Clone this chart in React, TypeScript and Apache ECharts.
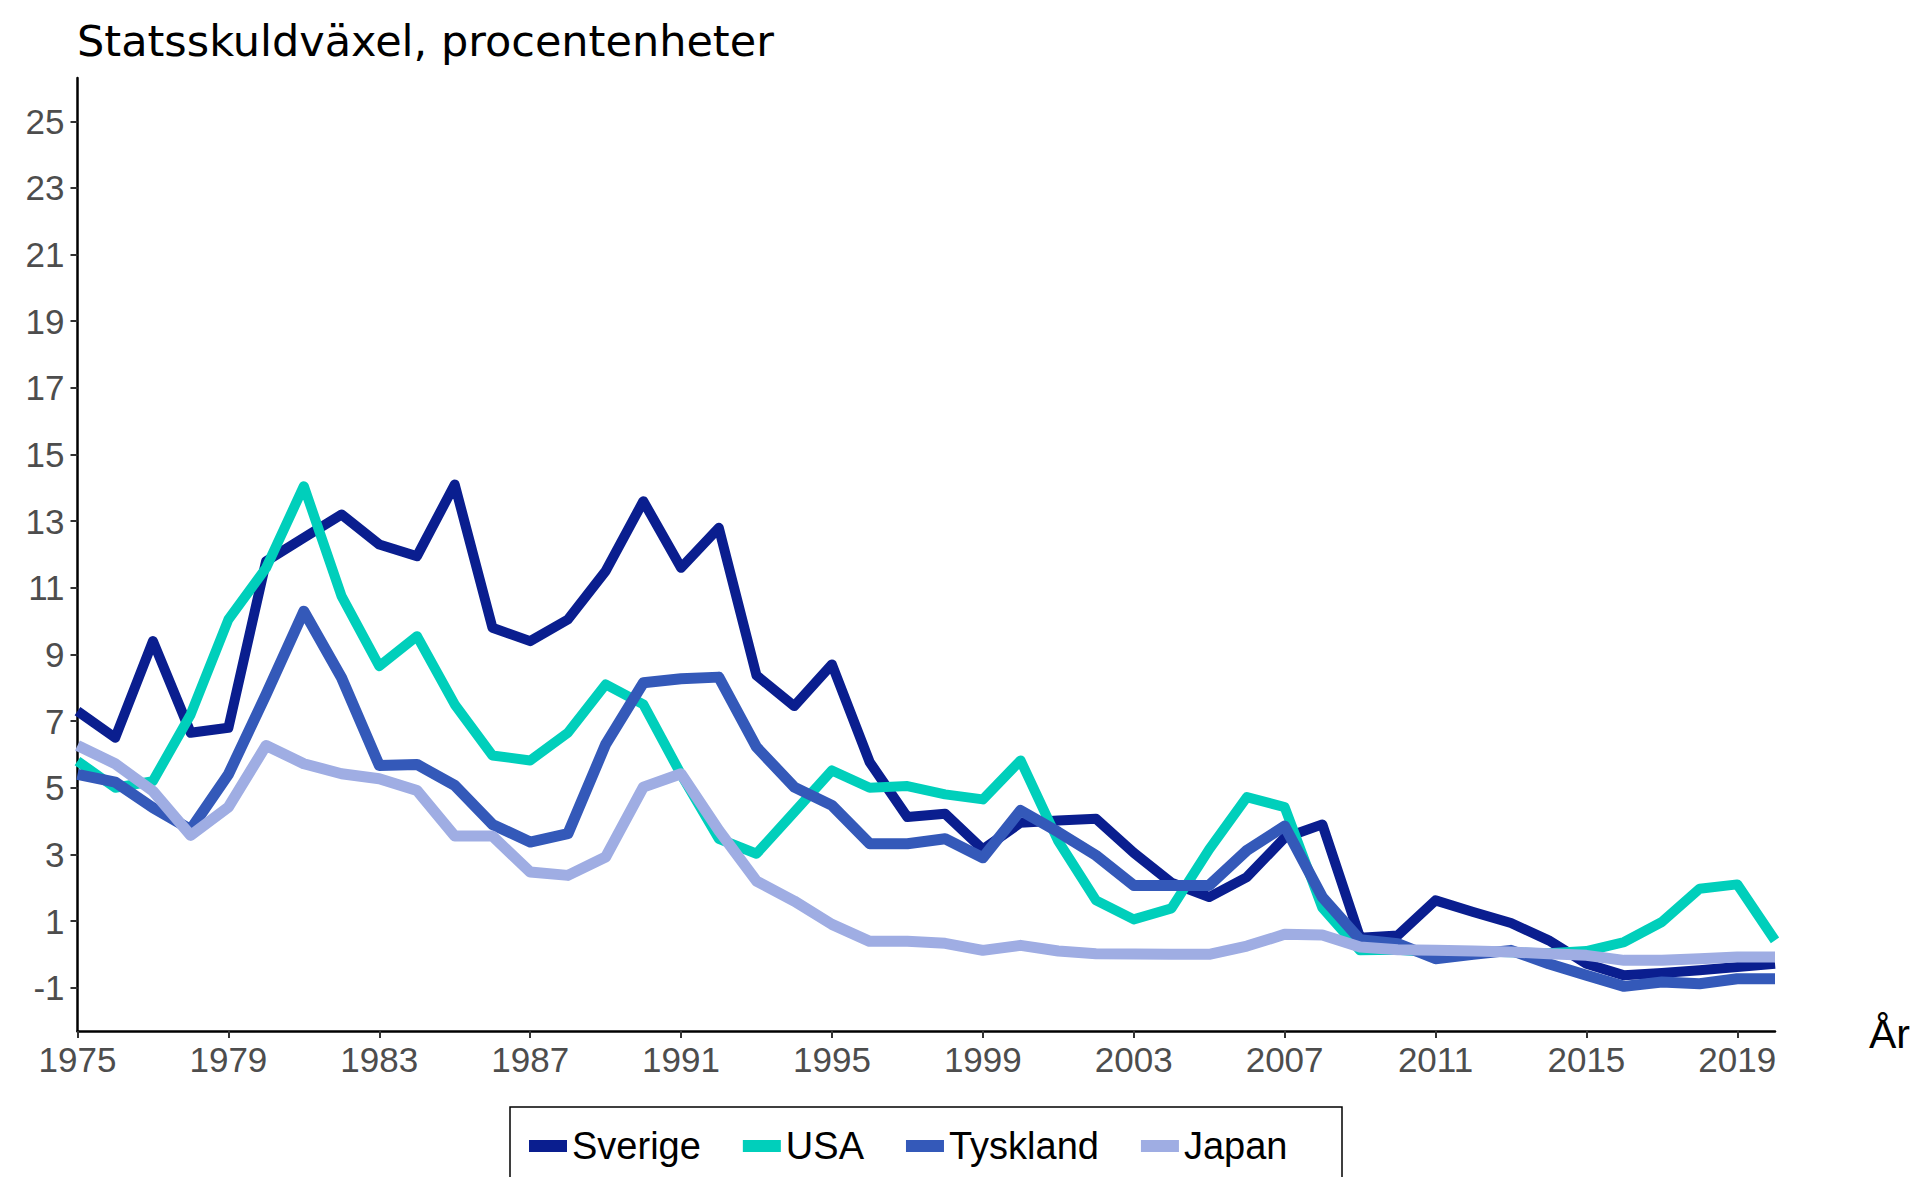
import React, { useEffect, useRef } from 'react';
import * as echarts from 'echarts';

const years = [
  '1975', '1976', '1977', '1978', '1979', '1980', '1981', '1982', '1983', '1984',
  '1985', '1986', '1987', '1988', '1989', '1990', '1991', '1992', '1993', '1994',
  '1995', '1996', '1997', '1998', '1999', '2000', '2001', '2002', '2003', '2004',
  '2005', '2006', '2007', '2008', '2009', '2010', '2011', '2012', '2013', '2014',
  '2015', '2016', '2017', '2018', '2019', '2020',
];

const sverige = [
  7.3, 6.5, 9.4, 6.65, 6.8, 11.8, 12.5, 13.2, 12.3, 11.95,
  14.1, 9.8, 9.4, 10.05, 11.5, 13.6, 11.6, 12.8, 8.37, 7.45,
  8.7, 5.77, 4.12, 4.22, 3.15, 3.95, 4.02, 4.07, 3.05, 2.15,
  1.72, 2.32, 3.5, 3.9, 0.5, 0.57, 1.62, 1.27, 0.94, 0.42,
  -0.28, -0.63, -0.56, -0.48, -0.38, -0.28,
];

const usa = [
  5.8, 5.0, 5.2, 7.2, 10.05, 11.6, 14.05, 10.75, 8.65, 9.55,
  7.5, 5.97, 5.82, 6.65, 8.1, 7.5, 5.4, 3.47, 3.02, 4.27,
  5.52, 5.0, 5.05, 4.8, 4.65, 5.82, 3.4, 1.62, 1.05, 1.38,
  3.15, 4.72, 4.42, 1.4, 0.12, 0.14, 0.05, 0.09, 0.06, 0.03,
  0.1, 0.37, 0.97, 1.97, 2.1, 0.42,
];

const tyskland = [
  5.4, 5.17, 4.4, 3.75, 5.4, 7.8, 10.3, 8.3, 5.67, 5.7,
  5.07, 3.9, 3.37, 3.62, 6.3, 8.15, 8.27, 8.32, 6.22, 5.02,
  4.47, 3.32, 3.32, 3.47, 2.9, 4.32, 3.67, 2.97, 2.07, 2.07,
  2.07, 3.12, 3.85, 1.72, 0.44, 0.32, -0.13, 0.0, 0.12, -0.28,
  -0.63, -0.96, -0.83, -0.88, -0.73, -0.73,
];

const japan = [
  6.27, 5.72, 4.9, 3.57, 4.42, 6.27, 5.72, 5.42, 5.27, 4.92,
  3.55, 3.55, 2.47, 2.37, 2.92, 5.02, 5.42, 3.72, 2.2, 1.6,
  0.9, 0.39, 0.39, 0.33, 0.12, 0.27, 0.1, 0.02, 0.01, 0.0,
  0.0, 0.25, 0.6, 0.58, 0.22, 0.14, 0.12, 0.1, 0.07, 0.02,
  -0.03, -0.18, -0.18, -0.13, -0.08, -0.08,
];

const yTicks = [-1, 1, 3, 5, 7, 9, 11, 13, 15, 17, 19, 21, 23, 25];

const seriesNames = ['Sverige', 'USA', 'Tyskland', 'Japan'];
const seriesColors = ['#0a1e8f', '#00cfbb', '#3459b9', '#9fade3'];

const titleText = 'Statsskuldväxel, procentenheter';
const xAxisTitle = 'År';

export default function App() {
  const ref = useRef<HTMLDivElement>(null);

  useEffect(() => {
    if (!ref.current) return;
    const chart = echarts.init(ref.current, null, { renderer: 'svg' });
    const font = 'Liberation Sans';
    const values = [sverige, usa, tyskland, japan];
    const widths = [10, 10, 11, 11];

    const series = seriesNames.map((name, i) => ({
      name,
      type: 'line',
      data: values[i],
      symbol: 'none',
      color: seriesColors[i],
      itemStyle: { color: seriesColors[i] },
      lineStyle: { color: seriesColors[i], width: widths[i], join: 'round', cap: 'butt' },
      z: 2 + i,
    }));

    chart.setOption({
      animation: false,
      backgroundColor: '#ffffff',
      grid: {
        left: 77.5,
        right: 152,
        top: 78,
        bottom: 146,
        outerBoundsMode: 'none',
        containLabel: false,
      },
      xAxis: {
        type: 'category',
        data: years,
        boundaryGap: false,
        axisLine: { show: true, onZero: false, lineStyle: { color: '#000000', width: 2.5 } },
        axisTick: { show: true, interval: 3, length: 7, lineStyle: { color: '#333333', width: 2 } },
        axisLabel: {
          interval: 3,
          margin: 11,
          color: '#4d4d4d',
          fontFamily: font,
          fontSize: 35,
        },
        splitLine: { show: false },
      },
      yAxis: {
        type: 'value',
        min: -2.3,
        max: 26.3,
        axisLine: { show: true, onZero: false, lineStyle: { color: '#000000', width: 2.5 } },
        axisTick: {
          show: true,
          length: 7,
          customValues: yTicks,
          lineStyle: { color: '#333333', width: 2 },
        },
        axisLabel: {
          customValues: yTicks,
          margin: 13,
          color: '#4d4d4d',
          fontFamily: font,
          fontSize: 35,
          formatter: (v: number) => String(v),
        },
        splitLine: { show: false },
      },
      legend: {
        data: seriesNames,
        left: 529,
        top: 1127,
        padding: 0,
        icon: 'rect',
        itemWidth: 38,
        itemHeight: 12,
        itemGap: 42,
        textStyle: { color: '#000000', fontFamily: font, fontSize: 38 },
      },
      graphic: [
        {
          type: 'text',
          left: 77,
          top: 19,
          style: {
            text: titleText,
            fill: '#000000',
            font: '43px "DejaVu Sans"',
          },
        },
        {
          type: 'text',
          x: 1869,
          y: 1034,
          style: {
            text: xAxisTitle,
            fill: '#000000',
            font: '41px "Liberation Sans"',
            verticalAlign: 'middle',
          },
        },
        {
          type: 'rect',
          shape: { x: 510, y: 1107, width: 832, height: 110 },
          style: { fill: 'none', stroke: '#000000', lineWidth: 1.5 },
        },
      ],
      series,
    });

    return () => {
      chart.dispose();
    };
  }, []);

  return (
    <div
      ref={ref}
      style={{ position: 'absolute', left: 0, top: 0, width: 1927, height: 1177 }}
    />
  );
}
